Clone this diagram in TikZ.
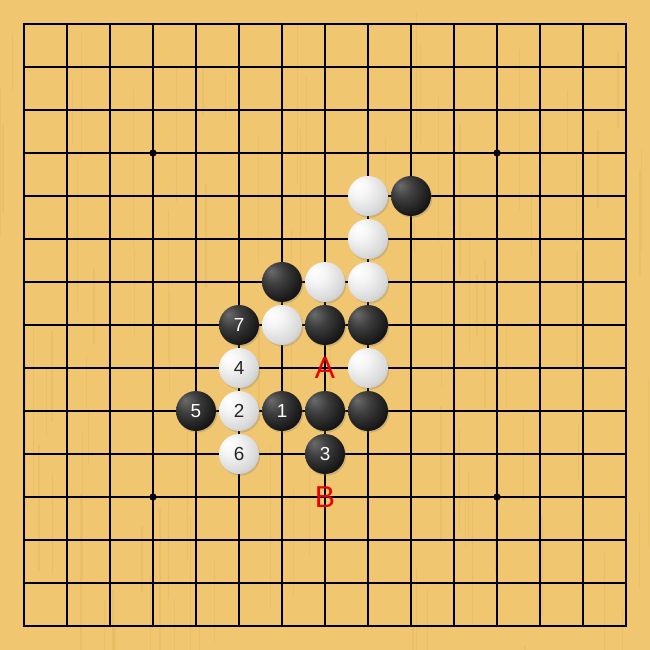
\documentclass[tikz,border=0pt]{standalone}
\usepackage{fontspec}
\setmainfont{Liberation Sans}
\usepackage{tikz}
\usetikzlibrary{shadows}
\definecolor{boardwood}{RGB}{240,198,112}
\definecolor{woodstreak}{RGB}{226,178,88}
\definecolor{markred}{RGB}{235,0,0}
\pgfdeclareradialshading{blackstone}{\pgfpoint{-14bp}{14bp}}{color(0bp)=(black!58); color(14bp)=(black!76); color(32bp)=(black!92); color(60bp)=(black)}
\pgfdeclareradialshading{whitestone}{\pgfpoint{-14bp}{14bp}}{color(0bp)=(white); color(12bp)=(white!96!black); color(28bp)=(white!86!black); color(42bp)=(white!72!black); color(60bp)=(white!55!black)}

\begin{document}
\begin{tikzpicture}[x=1cm, y=1cm,
    stone/.style={circle, minimum size=0.93cm, inner sep=0pt, font=\fontsize{12.5}{12.5}\selectfont,
        drop shadow={shadow xshift=0.03cm, shadow yshift=-0.04cm, opacity=0.3}},
    bstone/.style={stone, shading=blackstone, text=white},
    wstone/.style={stone, shading=whitestone, text=black!85},
    markpt/.style={text=markred, inner sep=0pt, font=\fontsize{20}{20}\selectfont}]
    % board
    \useasboundingbox (-0.558,0.558) rectangle (14.558,-14.558);
    \fill[boardwood] (-0.558,0.558) rectangle (14.558,-14.558);
    \pgfmathsetseed{7}
    \foreach \k in {1,...,90} {
        \pgfmathsetmacro{\sx}{-0.55+15.1*rnd}
        \pgfmathsetmacro{\sy}{0.5-15*rnd}
        \pgfmathsetmacro{\sl}{1+3*rnd}
        \draw[woodstreak, opacity=0.35, line width=0.8pt] (\sx,\sy) -- (\sx,\sy-\sl);
    }
    \foreach \i in {0,...,14} {
        \draw[line width=0.85pt] (\i,0) -- (\i,-14);
        \draw[line width=0.85pt] (0,-\i) -- (14,-\i);
    }
    \draw[line width=1.8pt] (0,0) rectangle (14,-14);
    \foreach \sx/\sy in {3/3, 11/3, 3/11, 11/11, 7/7}
        \fill (\sx,-\sy) circle (0.085);

    % stones
    \node[wstone] (w84) at (8,-4) {};
    \node[bstone] (b94) at (9,-4) {};
    \node[wstone] (w85) at (8,-5) {};
    \node[bstone] (b66) at (6,-6) {};
    \node[wstone] (w76) at (7,-6) {};
    \node[wstone] (w86) at (8,-6) {};
    \node[bstone] (b7) at (5,-7) {7};
    \node[wstone] (w67) at (6,-7) {};
    \node[bstone] (b77) at (7,-7) {};
    \node[bstone] (b87) at (8,-7) {};
    \node[wstone] (w4) at (5,-8) {4};
    \node[wstone] (w88) at (8,-8) {};
    \node[bstone] (b5) at (4,-9) {5};
    \node[wstone] (w2) at (5,-9) {2};
    \node[bstone] (b1) at (6,-9) {1};
    \node[bstone] (b79) at (7,-9) {};
    \node[bstone] (b89) at (8,-9) {};
    \node[wstone] (w6) at (5,-10) {6};
    \node[bstone] (b3) at (7,-10) {3};

    % marks
    \node[markpt] (ptA) at (7,-8) {A};
    \node[markpt] (ptB) at (7,-11) {B};
\end{tikzpicture}
\end{document}
